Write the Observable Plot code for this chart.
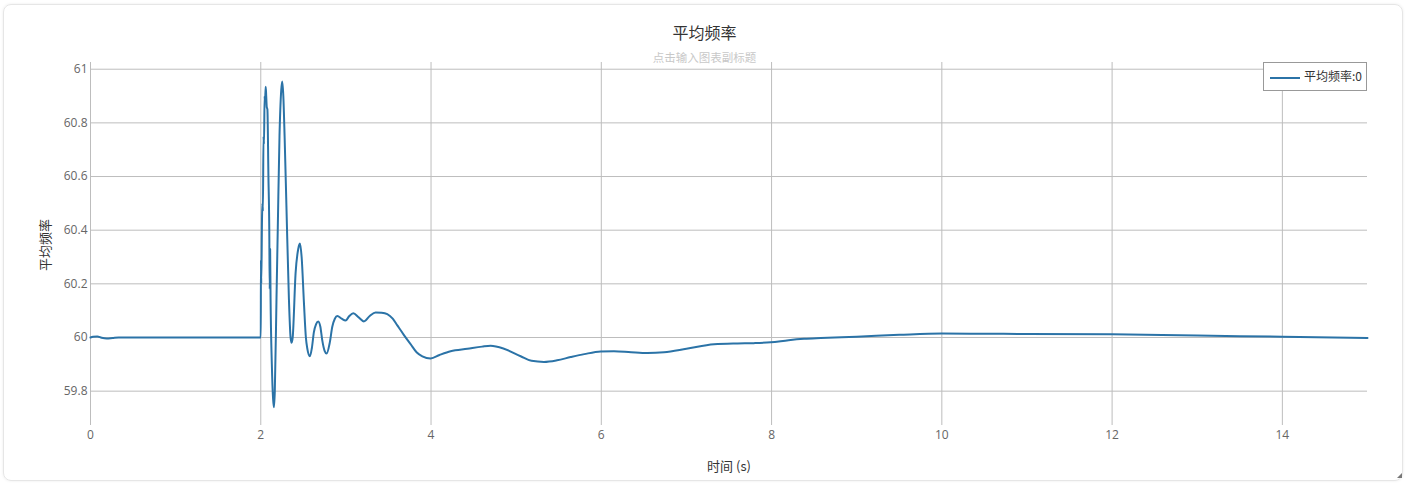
<!DOCTYPE html>
<html>
<head>
<meta charset="utf-8">
<script src="https://cdn.jsdelivr.net/npm/d3@7"></script>
<script src="https://cdn.jsdelivr.net/npm/@observablehq/plot@0.6"></script>
<style>
  html, body { margin: 0; padding: 0; background: #fff; }
  body { width: 1409px; height: 487px; overflow: hidden; font-family: "Noto Sans CJK SC", "Noto Sans", sans-serif; }
  #wrap { position: relative; width: 1409px; height: 487px; }
  #card { position: absolute; left: 3px; top: 4px; width: 1400px; height: 477px; border: 1px solid #e6e6e6; border-radius: 8px; box-shadow: 0 0 3px rgba(0,0,0,0.08); box-sizing: border-box; }
  #chart { position: absolute; left: 0; top: 0; }
  .ov { position: absolute; white-space: nowrap; color: #333; }
  #title { left: 0; width: 1409px; top: 21px; text-align: center; font-size: 16px; line-height: 22px; color: #333; }
  #subtitle { left: 0; width: 1409px; top: 49px; text-align: center; font-size: 11.5px; line-height: 16px; color: #c8c8c8; }
  #ylab { left: 45px; top: 245px; transform: translate(-50%, -50%) rotate(-90deg); font-size: 13px; line-height: 16px; }
  #xlab { left: 729px; top: 466px; transform: translate(-50%, -50%); font-size: 13px; line-height: 16px; }
  #legend { left: 1263px; top: 62px; width: 104px; height: 29px; border: 1px solid #999; background: #fff; box-sizing: border-box; }
  #legend .sw { position: absolute; left: 6px; top: 14px; width: 30px; height: 2px; background: #2b73a7; }
  #legend .tx { position: absolute; left: 40px; top: 5px; font-size: 12px; line-height: 16px; color: #333; }
  #grip { position: absolute; left: 1397px; top: 473px; width: 0; height: 0; border-left: 5px solid transparent; border-bottom: 5px solid #777; }
</style>
</head>
<body>
<div id="wrap">
  <div id="card"></div>
  <div id="chart"></div>
  <div class="ov" id="title">平均频率</div>
  <div class="ov" id="subtitle">点击输入图表副标题</div>
  <div class="ov" id="ylab">平均频率</div>
  <div class="ov" id="xlab">时间 (s)</div>
  <div class="ov" id="legend"><div class="sw"></div><div class="tx">平均频率:0</div></div>
  <div id="grip"></div>
</div>
<script>
const seriesName = "平均频率:0";
const xTicks = [0, 2, 4, 6, 8, 10, 12, 14];
const yTicks = [59.8, 60, 60.2, 60.4, 60.6, 60.8, 61];

const time = [
  0, 0.03, 0.08, 0.13, 0.19, 0.26, 0.33, 1.0, 1.99, 2.0,
  2.002, 2.006, 2.015, 2.02, 2.025, 2.032, 2.038, 2.045, 2.05, 2.058,
  2.064, 2.07, 2.078, 2.09, 2.1, 2.105, 2.11, 2.115, 2.13, 2.145,
  2.155, 2.165, 2.185, 2.2, 2.22, 2.24, 2.252, 2.265, 2.28, 2.303,
  2.33, 2.35, 2.362, 2.375, 2.409, 2.44, 2.46, 2.48, 2.507, 2.53,
  2.546, 2.577, 2.6, 2.624, 2.65, 2.675, 2.7, 2.722, 2.75, 2.773,
  2.81, 2.84, 2.87, 2.899, 2.95, 2.996, 3.04, 3.087, 3.15, 3.212,
  3.28, 3.349, 3.42, 3.486, 3.55, 3.604, 3.68, 3.76, 3.83, 3.898,
  3.995, 4.1, 4.23, 4.427, 4.6, 4.7, 4.857, 5.053, 5.18, 5.327,
  5.48, 5.64, 5.8, 5.993, 6.149, 6.35, 6.542, 6.737, 7.0, 7.324,
  7.6, 7.795, 7.99, 8.2, 8.382, 8.578, 9.0, 9.5, 10.0, 10.5,
  11.0, 12.0, 13.0, 14.0, 15.0
];
const freq = [
  60.0, 60.003, 60.004, 59.999, 59.996, 59.998, 60.0, 60.0, 60.0, 60.0,
  60.29, 60.2, 60.45, 60.5, 60.47, 60.75, 60.72, 60.9, 60.88, 60.935,
  60.9, 60.86, 60.85, 60.6, 60.4, 60.18, 60.33, 60.15, 59.9, 59.77,
  59.74, 59.8, 60.15, 60.41, 60.75, 60.92, 60.954, 60.9, 60.75, 60.47,
  60.15, 60.0, 59.98, 60.0, 60.24, 60.33, 60.35, 60.3, 60.13, 60.0,
  59.96, 59.93, 59.96, 60.02, 60.05, 60.06, 60.04, 59.99, 59.95, 59.94,
  59.98, 60.04, 60.07, 60.08, 60.07, 60.063, 60.08, 60.09, 60.075, 60.06,
  60.08, 60.093, 60.092, 60.087, 60.07, 60.045, 60.01, 59.975, 59.945, 59.93,
  59.922, 59.935, 59.949, 59.958, 59.966, 59.969, 59.958, 59.93, 59.913, 59.909,
  59.915, 59.927, 59.938, 59.948, 59.949, 59.945, 59.942, 59.945, 59.958, 59.975,
  59.978, 59.979, 59.982, 59.99, 59.995, 59.998, 60.003, 60.01, 60.015, 60.014,
  60.013, 60.012, 60.007, 60.003, 59.998
];

const data = time.map((t, i) => ({t, f: freq[i], s: seriesName}));

const chart = Plot.plot({
  width: 1409,
  height: 487,
  marginLeft: 90,
  marginRight: 42,
  marginTop: 62,
  marginBottom: 62,
  style: {fontFamily: "'Open Sans', 'Noto Sans', sans-serif", fontSize: "12px", background: "transparent", color: "#666"},
  x: {domain: [0, 15], label: null},
  y: {domain: [59.672, 61.025], label: null},
  marks: [
    Plot.gridX(xTicks, {stroke: "#bdbdbd", strokeOpacity: 1}),
    Plot.gridY(yTicks, {stroke: "#bdbdbd", strokeOpacity: 1}),
    Plot.axisX(xTicks, {tickSize: 0, tickPadding: 5, fill: "#666", tickFormat: d => String(d), label: null, fontSize: 12}),
    Plot.axisY(yTicks, {tickSize: 0, tickPadding: 3, fill: "#666", tickFormat: d => String(+d.toFixed(1)), label: null, fontSize: 12}),
    Plot.line(data, {x: "t", y: "f", stroke: "#2b73a7", strokeWidth: 2, curve: "monotone-x"})
  ]
});
document.getElementById("chart").appendChild(chart);
</script>
</body>
</html>
